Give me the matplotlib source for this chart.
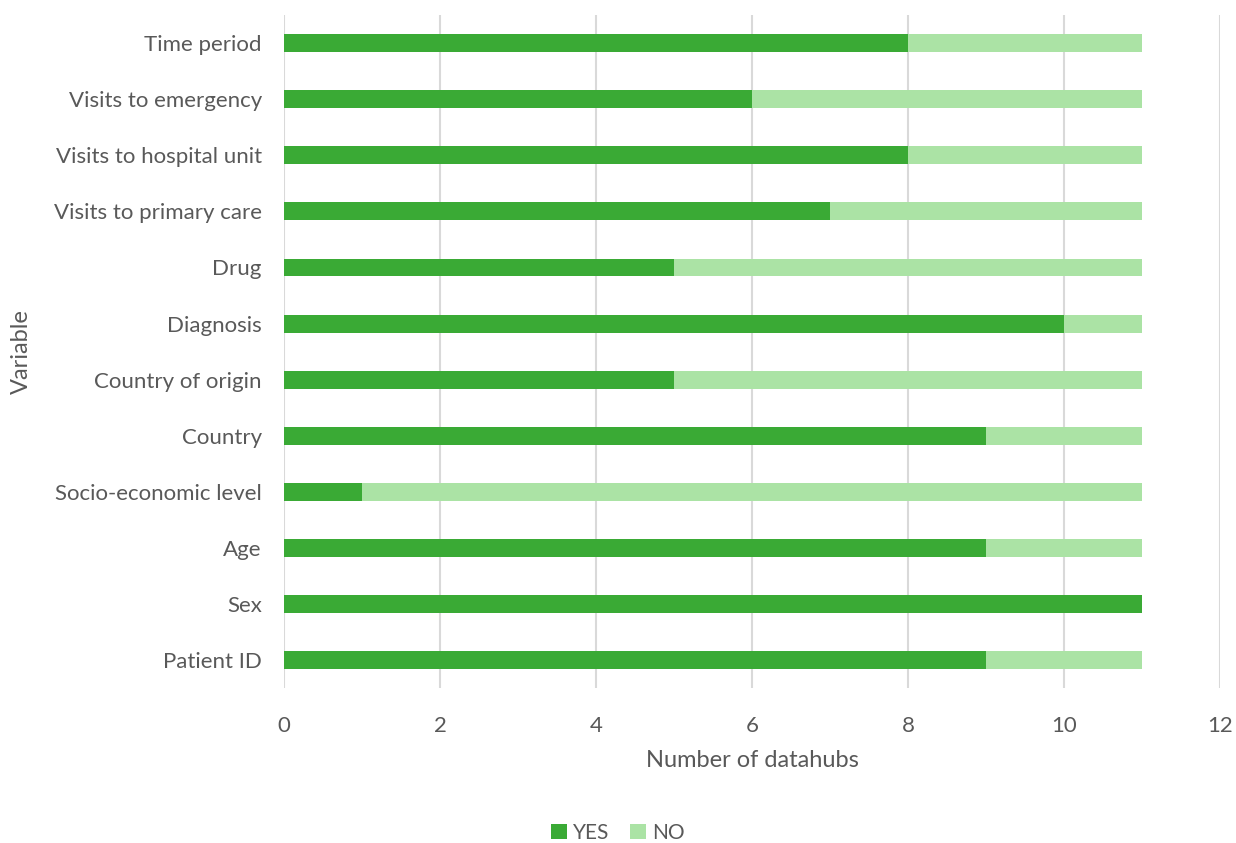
import matplotlib
matplotlib.use("Agg")
import matplotlib.pyplot as plt

# Data (bottom to top as drawn)
categories = ["Patient ID", "Sex", "Age", "Socio-economic level", "Country",
              "Country of origin", "Diagnosis", "Drug", "Visits to primary care",
              "Visits to hospital unit", "Visits to emergency", "Time period"]
yes_vals = [9, 11, 9, 1, 9, 5, 10, 5, 7, 8, 6, 8]
no_vals = [2, 0, 2, 10, 2, 6, 1, 6, 4, 3, 5, 3]
x_ticks = [0, 2, 4, 6, 8, 10, 12]

YES_COL = "#3aaa35"
NO_COL = "#abe3a5"
TEXT_COL = "#595959"
GRID_COL = "#d9d9d9"

plt.rcParams['font.family'] = ['Lato', 'DejaVu Sans']

fig = plt.figure(figsize=(12.36, 8.43), dpi=100)
ax = fig.add_axes([0.2298, 0.1839, 0.987 - 0.2298, 0.982 - 0.1839])

pos = range(len(categories))
ax.barh(pos, yes_vals, height=0.32, color=YES_COL, label="YES", zorder=3)
ax.barh(pos, no_vals, left=yes_vals, height=0.32, color=NO_COL, label="NO", zorder=3)

ax.set_xlim(0, 12)
ax.set_ylim(-0.5, len(categories) - 0.5)
ax.set_xticks(x_ticks)
ax.set_yticks(list(pos))
ax.set_yticklabels(categories)
ax.xaxis.grid(True, color=GRID_COL, linewidth=1.5, zorder=0)
ax.set_axisbelow(True)
for s in ax.spines.values():
    s.set_visible(False)
ax.tick_params(axis='both', length=0, labelsize=16, labelcolor=TEXT_COL)
ax.tick_params(axis='x', pad=20)
ax.tick_params(axis='y', pad=16)

ax.set_xlabel("Number of datahubs", fontsize=17, color=TEXT_COL, labelpad=10)
ax.set_ylabel("Variable", fontsize=17, color=TEXT_COL, labelpad=16)

fig.legend(loc='center', bbox_to_anchor=(0.5, 1 - 833 / 843), ncol=2, frameon=False,
           fontsize=15, labelcolor=TEXT_COL, handlelength=0.75, handleheight=0.75,
           handletextpad=0.3, columnspacing=1.0)

fig.savefig("out.png", dpi=100)
